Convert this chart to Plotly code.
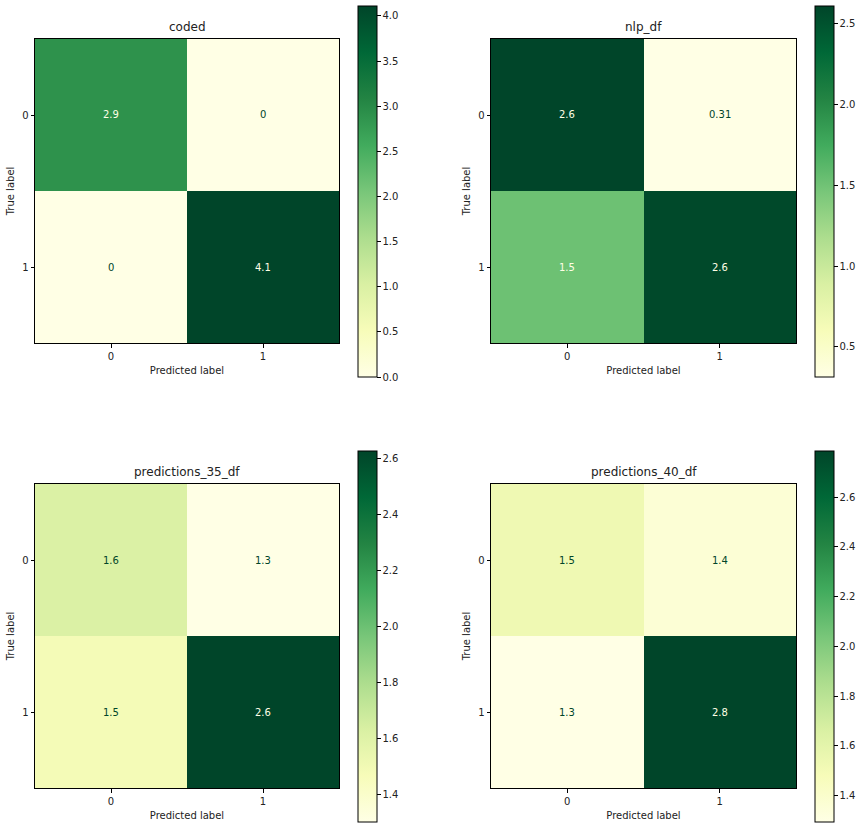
import plotly.graph_objects as go

titles = ["coded", "nlp_df", "predictions_35_df", "predictions_40_df"]
labels = ["0", "1"]
matrices = [
    [[2.9, 0.0], [0.0, 4.11]],
    [[2.61, 0.314], [1.52, 2.58]],
    [[1.62, 1.30], [1.48, 2.626]],
    [[1.53, 1.36], [1.294, 2.785]],
]
cbar_ticks = [
    [0.0, 0.5, 1.0, 1.5, 2.0, 2.5, 3.0, 3.5, 4.0],
    [0.5, 1.0, 1.5, 2.0, 2.5],
    [1.4, 1.6, 1.8, 2.0, 2.2, 2.4, 2.6],
    [1.4, 1.6, 1.8, 2.0, 2.2, 2.4, 2.6],
]

W, H = 863, 829
panels = [  # x0, x1, ytop, ybottom in pixels; colorbar x, top, bottom
    (35, 339, 39, 343, 358, 6, 377),
    (491, 796, 39, 343, 815, 6, 377),
    (35, 339, 484, 788, 358, 451, 822),
    (491, 796, 484, 788, 815, 451, 822),
]

DARK = "#004529"
LIGHT = "#ffffe5"
FONT = "DejaVu Sans"

fig = go.Figure()
layout = {}
annotations = []
for i, (title, z, ticks, p) in enumerate(zip(titles, matrices, cbar_ticks, panels)):
    x0, x1, yt, yb, cx, ct, cb = p
    n = "" if i == 0 else str(i + 1)
    xa, ya = "x" + n, "y" + n
    zmin = min(min(r) for r in z)
    zmax = max(max(r) for r in z)
    fig.add_trace(go.Heatmap(
        z=z, x=labels, y=labels, xaxis=xa, yaxis=ya,
        colorscale="YlGn", zmin=zmin, zmax=zmax, hoverongaps=False,
        xgap=0, ygap=0,
        colorbar=dict(
            x=cx / W, xanchor="left", xref="paper",
            y=1 - (ct + cb) / 2 / H, yanchor="middle",
            len=cb - ct, lenmode="pixels", thickness=19,
            outlinecolor="black", outlinewidth=1,
            ticks="outside", ticklen=3.5, tickwidth=0.8, tickcolor="black",
            tickvals=ticks, ticktext=[f"{t:.1f}" for t in ticks],
            tickfont=dict(size=10, color="#222", family=FONT),
            xpad=0, ypad=0,
        ),
    ))
    axcommon = dict(
        showline=True, linecolor="black", linewidth=1, mirror=True,
        ticks="outside", ticklen=3.5, tickwidth=0.8, tickcolor="black",
        tickfont=dict(size=10, color="#222", family=FONT),
        showgrid=False, zeroline=False, type="category",
    )
    layout["xaxis" + n] = dict(
        axcommon, domain=[x0 / W, x1 / W], anchor=ya, range=[-0.5, 1.5],
        title=dict(text="Predicted label", font=dict(size=10, color="#222", family=FONT), standoff=6),
    )
    layout["yaxis" + n] = dict(
        axcommon, domain=[1 - yb / H, 1 - yt / H], anchor=xa, range=[1.5, -0.5],
        title=dict(text="True label", font=dict(size=10, color="#222", family=FONT), standoff=5),
    )
    thresh = (zmin + zmax) / 2
    for r in range(2):
        for c in range(2):
            v = z[r][c]
            annotations.append(dict(
                x=labels[c], y=labels[r], xref=xa, yref=ya, showarrow=False,
                text=f"{v:.2g}", font=dict(size=10, family=FONT,
                                          color=LIGHT if v >= thresh else DARK),
            ))
    annotations.append(dict(
        x=(x0 + x1) / 2 / W, y=1 - (yt - 3) / H, xref="paper", yref="paper",
        xanchor="center", yanchor="bottom", showarrow=False, text=title,
        font=dict(size=12, color="#222", family=FONT),
    ))

fig.update_layout(
    **layout, annotations=annotations,
    width=W, height=H, margin=dict(l=0, r=0, t=0, b=0),
    paper_bgcolor="white", plot_bgcolor="white", showlegend=False,
    font=dict(family=FONT),
)
fig.write_html("out.html")
